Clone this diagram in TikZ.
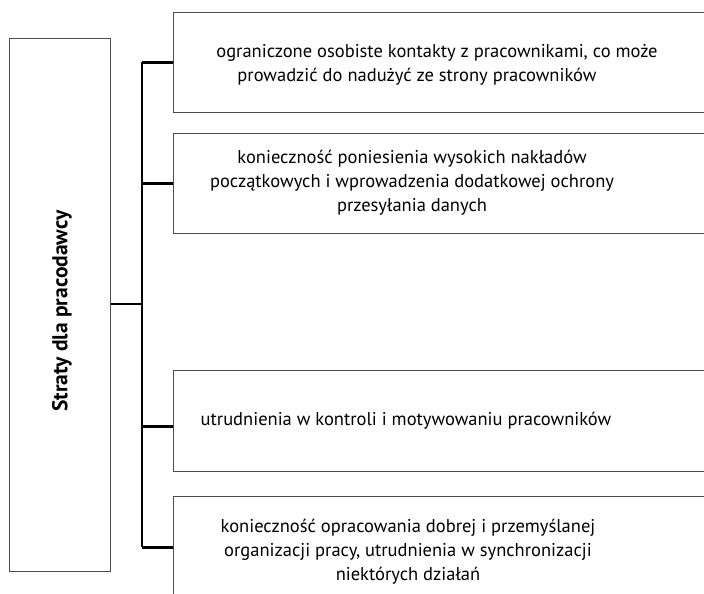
\documentclass[tikz,border=0pt]{standalone}
\usepackage{fontspec}
\setmainfont{PT Sans}
\begin{document}
\begin{tikzpicture}[x=1pt,y=-1pt,
  box/.style={draw=black!70, line width=0.9pt, anchor=north west, inner sep=0pt},
  txt/.style={align=center, font=\fontsize{18.5}{24}\selectfont, inner sep=0pt},
  conn/.style={draw=black, line width=2.3pt}]
\useasboundingbox (0,0) rectangle (704,594);
\clip (0,0) rectangle (704,594);
\node[box, minimum width=101pt, minimum height=533pt] (L) at (9,38) {};
\node[rotate=90, font=\fontsize{21.5}{24}\selectfont\bfseries] (Lt) at (62,311) {Straty dla pracodawcy};
\node[box, minimum width=560pt, minimum height=100pt] (b1) at (173,12) {};
\node[box, minimum width=560pt, minimum height=100pt] (b2) at (173,133) {};
\node[box, minimum width=560pt, minimum height=101pt] (b3) at (173,370) {};
\node[box, minimum width=560pt, minimum height=102pt] (b4) at (173,496) {};
\node[txt] (t1) at (417,65) {\hspace*{40pt}ograniczone osobiste kontakty z pracownikami, co może\\prowadzić do nadużyć ze strony pracowników};
\node[txt] (t2) at (412,183) {konieczność poniesienia wysokich nakładów\\początkowych i wprowadzenia dodatkowej ochrony\\przesyłania danych};
\node[txt] (t3) at (406,421) {utrudnienia w kontroli i motywowaniu pracowników};
\node[txt] (t4) at (408,552) {konieczność opracowania dobrej i przemyślanej\\organizacji pracy, utrudnienia w synchronizacji\\niektórych działań};
\coordinate (sp) at (142,304);
\draw[conn] (L.east |- sp) -- (sp);
\draw[conn] (b1.west -| sp) -- (b4.west -| sp);
\draw[conn] (b1.west) -- (b1.west -| sp);
\draw[conn] (b2.west) -- (b2.west -| sp);
\draw[conn] ([yshift=-5.5pt]b3.west) -- ([yshift=-5.5pt]b3.west -| sp);
\draw[conn] (b4.west) -- (b4.west -| sp);
\end{tikzpicture}
\end{document}
